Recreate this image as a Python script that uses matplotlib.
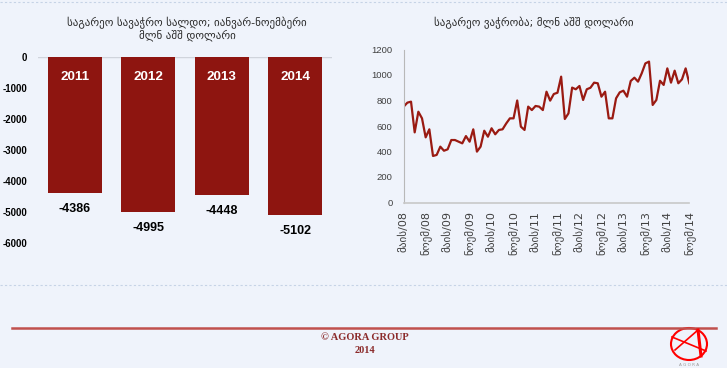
import numpy as np
import matplotlib
matplotlib.use("Agg")
import matplotlib.pyplot as plt
from matplotlib.lines import Line2D
from matplotlib.patches import Ellipse

W, H = 727, 368
bg = "#eff3fb"
bar_col = "#8e1510"
line_col = "#9a1a12"

# left chart data
years = ["2011", "2012", "2013", "2014"]
balance = [-4386, -4995, -4448, -5102]

# right chart data: monthly, May 2008 .. Nov 2014
trade = [752, 783, 791, 550, 712, 660, 511, 574, 365, 373,
         438, 406, 417, 490, 490, 477, 464, 521, 477, 574,
         399, 438, 563, 516, 582, 535, 569, 574, 620, 660,
         660, 800, 595, 569, 752, 725, 757, 752, 725, 869,
         799, 851, 861, 987, 655, 699, 901, 888, 914, 804,
         888, 900, 940, 935, 830, 869, 660, 660, 817, 864,
         877, 830, 953, 979, 948, 1013, 1091, 1105, 765, 804,
         955, 922, 1052, 940, 1034, 935, 966, 1052, 935]
tick_labels = ["მაის/08", "ნოემ/08", "მაის/09", "ნოემ/09", "მაის/10", "ნოემ/10",
               "მაის/11", "ნოემ/11", "მაის/12", "ნოემ/12", "მაის/13", "ნოემ/13",
               "მაის/14", "ნოემ/14"]

def fx(px):
    return px / W

def fy(py):
    return 1 - py / H

fig = plt.figure(figsize=(W / 100, H / 100), dpi=100, facecolor=bg)

# ---- left: bars
ax1 = fig.add_axes([fx(38), fy(243.3), fx(332 - 38), (243.3 - 57) / H])
ax1.set_facecolor(bg)
x = np.arange(len(years))
ax1.bar(x, balance, width=0.73, color=bar_col, zorder=2)
ax1.set_xlim(-0.5, 3.5)
ax1.set_ylim(-6000, 0)
ax1.set_yticks(np.arange(-6000, 1, 1000))
ax1.set_yticklabels([str(v) for v in range(-6000, 1, 1000)],
                    fontfamily="Liberation Sans", fontweight="bold", fontsize=6.9)
ax1.tick_params(axis="y", length=0, pad=8)
ax1.set_xticks([])
for s in ax1.spines.values():
    s.set_visible(False)
ax1.axhline(0, color="#d0d4dc", lw=1, zorder=1)
for i, (yr, v) in enumerate(zip(years, balance)):
    ax1.text(i, -630, yr, ha="center", va="center", color="white",
             fontfamily="Liberation Sans", fontweight="bold", fontsize=9.7)
    ax1.text(i, v - 500, str(v), ha="center", va="center", color="black",
             fontfamily="Liberation Sans", fontweight="bold", fontsize=9)
fig.text(fx(187), fy(22.5), "საგარეო სავაჭრო სალდო; იანვარ-ნოემბერი",
         ha="center", va="center", fontsize=7.9, color="#2a2a2a")
fig.text(fx(187), fy(35.5), "მლნ აშშ დოლარი",
         ha="center", va="center", fontsize=7.9, color="#2a2a2a")

# ---- right: line
ax2 = fig.add_axes([fx(403.7), fy(202.5), fx(689.3 - 403.7), (202.5 - 49.5) / H])
ax2.set_facecolor(bg)
ax2.plot(np.arange(len(trade)), trade, color=line_col, lw=1.6)
ax2.set_xlim(0, len(trade) - 1)
ax2.set_ylim(0, 1200)
ax2.set_yticks(range(0, 1201, 200))
ax2.set_yticklabels([str(v) for v in range(0, 1201, 200)],
                    fontfamily="Liberation Sans", fontsize=6.8, color="#404040")
ax2.set_xticks(np.arange(0, len(trade), 6))
ax2.set_xticklabels(tick_labels, rotation=90, fontsize=8, color="#404040")
ax2.tick_params(axis="y", length=0, pad=8)
ax2.tick_params(axis="x", length=0, pad=6)
for k in ["top", "right"]:
    ax2.spines[k].set_visible(False)
ax2.spines["left"].set_color("#b8b8b8")
ax2.spines["bottom"].set_color("#c8c8c8")
ax2.spines["bottom"].set_linewidth(1.2)
fig.text(fx(534), fy(22.5), "საგარეო ვაჭრობა; მლნ აშშ დოლარი",
         ha="center", va="center", fontsize=7.9, color="#2a2a2a")

# ---- separators and footer
fig.add_artist(Line2D([0, 1], [fy(1.5), fy(1.5)], color="#c6d3e6", lw=0.8, ls=(0, (2, 2))))
fig.add_artist(Line2D([0, 1], [fy(285), fy(285)], color="#c6d3e6", lw=0.8, ls=(0, (2, 2))))
fig.add_artist(Line2D([fx(12), fx(716)], [fy(327.5), fy(327.5)], color="#c0504d", lw=1.8))
fig.text(fx(365), fy(337), "© AGORA GROUP", ha="center", va="center",
         fontfamily="Liberation Serif", fontweight="bold", fontsize=7.5, color="#8b2a2a")
fig.text(fx(365), fy(350.5), "2014", ha="center", va="center",
         fontfamily="Liberation Serif", fontweight="bold", fontsize=7.5, color="#8b2a2a")

# logo
logo = Ellipse((fx(689), fy(344)), fx(36), 32 / H, fill=False, ec="red", lw=1.5)
fig.add_artist(logo)
fig.add_artist(Line2D([fx(675), fx(698)], [fy(350), fy(330)], color="red", lw=1.2))
fig.add_artist(Line2D([fx(672), fx(706)], [fy(337), fy(351)], color="red", lw=1.2))
fig.add_artist(Line2D([fx(698), fx(701)], [fy(330), fy(356)], color="red", lw=2.2))
fig.text(fx(689), fy(365), "A G O R A", ha="center", va="center", fontsize=3, color="#999999")

fig.savefig("out.png", dpi=100, facecolor=bg)
